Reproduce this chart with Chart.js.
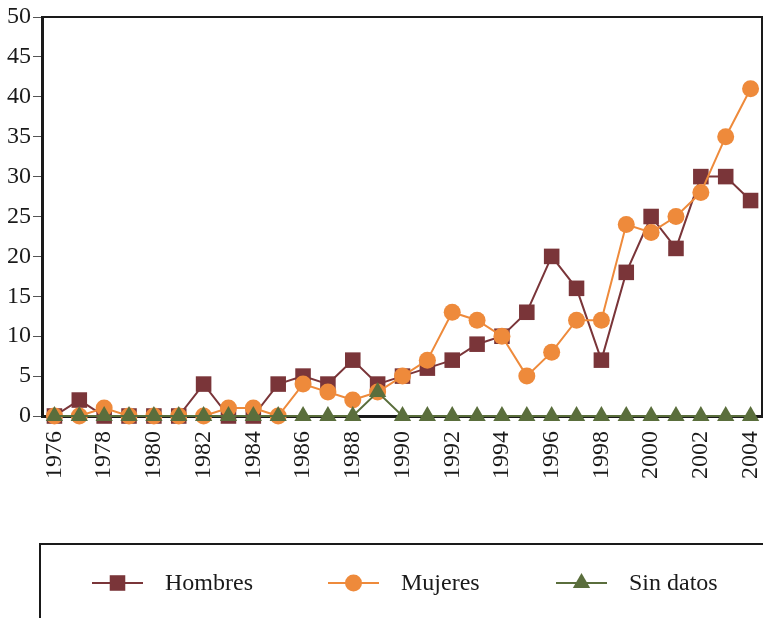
<!DOCTYPE html>
<html><head><meta charset="utf-8">
<script src="https://cdn.jsdelivr.net/npm/chart.js@4"></script>
<style>html,body{margin:0;padding:0;background:#fff;overflow:hidden}</style>
</head><body>
<canvas id="c" width="763" height="618"></canvas>
<script>
const years = ['1976','1977','1978','1979','1980','1981','1982','1983','1984','1985','1986','1987','1988','1989','1990','1991','1992','1993','1994','1995','1996','1997','1998','1999','2000','2001','2002','2003','2004'];
const hombres = [0,2,0,0,0,0,4,0,0,4,5,4,7,4,5,6,7,9,10,13,20,16,7,18,25,21,30,30,27];
const mujeres = [0,0,1,0,0,0,0,1,1,0,4,3,2,3,5,7,13,12,10,5,8,12,12,24,23,25,28,35,41];
const sinDatos = [0,0,0,0,0,0,0,0,0,0,0,0,0,3,0,0,0,0,0,0,0,0,0,0,0,0,0,0,0];
const seriesNames = ['Hombres','Mujeres','Sin datos'];
const yMin = 0, yMax = 50, yStep = 5;

const FONT = "'Liberation Serif', 'Times New Roman', serif";

const framePlugin = {
  id: 'frame',
  beforeDatasetsDraw(chart) {
    const {ctx, chartArea: a} = chart;
    ctx.save();
    ctx.strokeStyle = '#1a1a1a';
    ctx.lineWidth = 2;
    ctx.beginPath();
    ctx.moveTo(a.left, a.top);
    ctx.lineTo(a.right - 1, a.top);
    ctx.lineTo(a.right - 1, a.bottom);
    ctx.stroke();
    ctx.restore();
  }
};

const legendPlugin = {
  id: 'customLegend',
  afterDraw(chart) {
    const ctx = chart.ctx;
    ctx.save();
    ctx.strokeStyle = '#1a1a1a';
    ctx.lineWidth = 2;
    ctx.strokeRect(40, 544, 740, 100);
    const starts = [92, 328, 556];
    const y = 583;
    chart.data.datasets.forEach((ds, i) => {
      const x0 = starts[i];
      ctx.strokeStyle = ds.borderColor;
      ctx.lineWidth = 2;
      ctx.beginPath();
      ctx.moveTo(x0, y);
      ctx.lineTo(x0 + 51, y);
      ctx.stroke();
      ctx.fillStyle = ds.pointBackgroundColor;
      ctx.strokeStyle = ds.pointBackgroundColor;
      Chart.helpers.drawPoint(ctx, {pointStyle: ds.pointStyle, radius: ds.pointRadius, borderWidth: 0}, x0 + 25.5, y);
      ctx.fillStyle = '#1a1a1a';
      ctx.font = "24px " + FONT;
      ctx.textBaseline = 'middle';
      ctx.textAlign = 'left';
      ctx.fillText(ds.label, x0 + 73, y + 1);
    });
    ctx.restore();
  }
};

function mk(label, data, color, style, r, order) {
  return {
    label, data, order,
    borderColor: color, backgroundColor: color,
    pointBackgroundColor: color, pointBorderColor: color,
    pointStyle: style, pointRadius: r, pointHoverRadius: r,
    pointBorderWidth: 0, borderWidth: 2, tension: 0, clip: false
  };
}

new Chart(document.getElementById('c'), {
  type: 'line',
  data: {
    labels: years,
    datasets: [
      mk(seriesNames[0], hombres, '#7a3539', 'rect', 11, 2),
      mk(seriesNames[1], mujeres, '#ee8a3b', 'circle', 8.5, 1),
      mk(seriesNames[2], sinDatos, '#5a6e3c', 'triangle', 10, 0)
    ]
  },
  options: {
    responsive: false,
    animation: false,
    layout: {autoPadding: false, padding: {top: 17, right: 0, left: 0, bottom: 0}},
    plugins: {legend: {display: false}, tooltip: {enabled: false}},
    scales: {
      x: {
        type: 'category',
        offset: true,
        grid: {display: false, drawTicks: false},
        border: {display: true, color: '#1a1a1a', width: 3},
        ticks: {
          autoSkip: false, maxRotation: 90, minRotation: 90, padding: 15,
          color: '#1a1a1a', font: {family: FONT, size: 24},
          callback: (v, i) => (i % 2 === 0 ? years[i] : '')
        },
        afterFit(s) { s.height = 202; s.paddingLeft = 0; s.paddingRight = 0; }
      },
      y: {
        min: yMin, max: yMax,
        grid: {display: true, drawOnChartArea: false, drawTicks: true, tickLength: 9, color: '#555', lineWidth: 1},
        border: {display: true, color: '#1a1a1a', width: 3},
        ticks: {stepSize: yStep, padding: 2, color: '#1a1a1a', font: {family: FONT, size: 24}},
        afterFit(s) { s.width = 42; s.paddingTop = 0; s.paddingBottom = 0; }
      }
    }
  },
  plugins: [framePlugin, legendPlugin]
});
</script>
</body></html>
